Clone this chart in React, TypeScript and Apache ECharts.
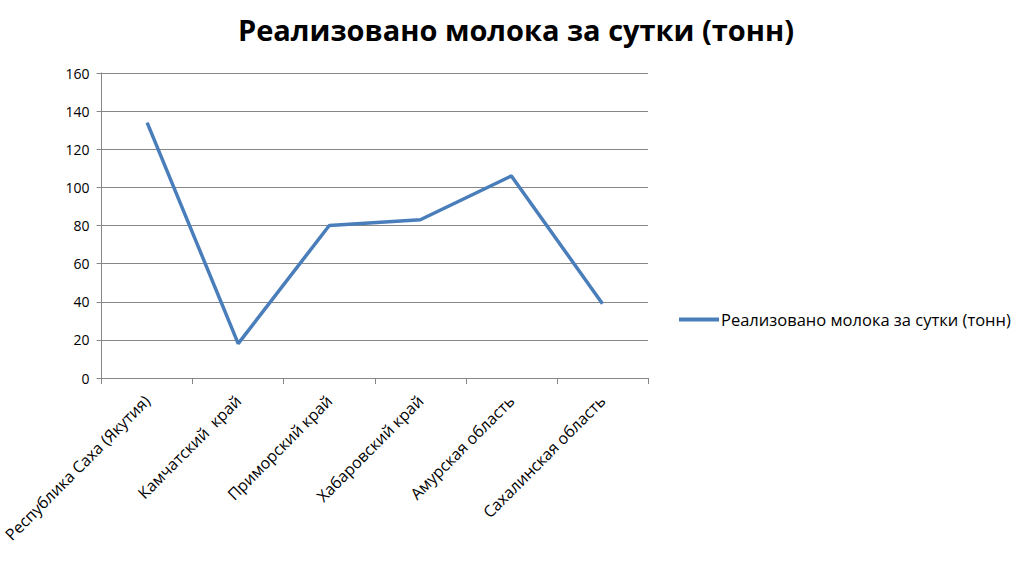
import React, { useEffect, useRef } from "react";
import * as echarts from "echarts";

const categories = [
  "Республика Саха (Якутия)",
  "Камчатский  край",
  "Приморский край",
  "Хабаровский край",
  "Амурская область",
  "Сахалинская область",
];
const seriesName = "Реализовано молока за сутки (тонн)";
const values = [134, 18, 80, 83, 106, 39];
const titleText = "Реализовано молока за сутки (тонн)";

export default function App() {
  const ref = useRef<HTMLDivElement>(null);
  useEffect(() => {
    if (!ref.current) return;
    const chart = echarts.init(ref.current, null, { renderer: "svg" });
    const font = "'Open Sans', 'Noto Sans', sans-serif";
    chart.setOption({
      animation: false,
      backgroundColor: "#ffffff",
      title: {
        text: titleText,
        left: 511,
        textAlign: "center",
        top: 10,
        textStyle: { fontFamily: font, fontSize: 29, fontWeight: "bold", color: "#000" },
      },
      legend: {
        left: 674,
        top: 306,
        icon: "rect",
        itemWidth: 40,
        itemHeight: 4,
        itemGap: 4,
        textStyle: { fontFamily: font, fontSize: 16.5, color: "#000", padding: [0, 0, 0, -3] },
        data: [seriesName],
      },
      grid: { left: 101, right: 376, top: 73, bottom: 189, containLabel: false },
      xAxis: {
        type: "category",
        data: categories,
        axisLine: { lineStyle: { color: "#868686", width: 1 } },
        axisTick: { show: true, length: 6, lineStyle: { color: "#868686" } },
        axisLabel: {
          rotate: 45,
          interval: 0,
          fontFamily: font,
          fontSize: 16,
          color: "#000",
          margin: 20,
        },
      },
      yAxis: {
        type: "value",
        min: 0,
        max: 160,
        interval: 20,
        axisLine: { show: true, lineStyle: { color: "#868686", width: 1 } },
        axisTick: { show: true, length: 5, lineStyle: { color: "#868686" } },
        splitLine: { lineStyle: { color: "#868686", width: 1 } },
        axisLabel: { fontFamily: font, fontSize: 14, color: "#000", margin: 12 },
      },
      series: [
        {
          name: seriesName,
          type: "line",
          data: values,
          symbol: "none",
          lineStyle: { color: "#4a7ebb", width: 3.5 },
          itemStyle: { color: "#4a7ebb" },
        },
      ],
    });
    return () => chart.dispose();
  }, []);
  return <div ref={ref} style={{ width: 1024, height: 567, position: "absolute", left: 0, top: 0 }} />;
}
